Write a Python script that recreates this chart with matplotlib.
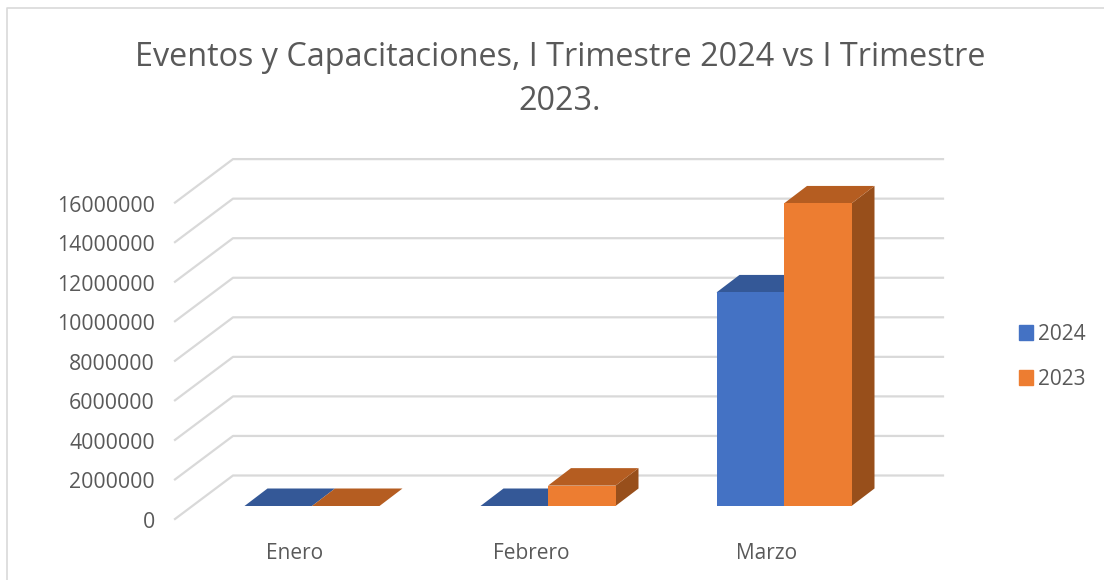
# -*- coding: utf-8 -*-
import matplotlib
matplotlib.use("Agg")
import matplotlib.pyplot as plt
from matplotlib.patches import Patch, Polygon
from matplotlib.transforms import ScaledTranslation

months = ["Enero", "Febrero", "Marzo"]
values_2024 = [0, 0, 10800000]
values_2023 = [0, 1030000, 15300000]
y_ticks = [0, 2000000, 4000000, 6000000, 8000000, 10000000, 12000000, 14000000, 16000000]
title = "Eventos y Capacitaciones, I Trimestre 2024 vs I Trimestre\n2023."

BLUE = "#4472c4"
BLUE_TOP = "#345897"
ORANGE = "#ed7d31"
ORANGE_TOP = "#b55d21"
ORANGE_SIDE = "#984f1b"
GRID = "#d9d9d9"
TEXT = "#595959"

W, H = 1104, 580
plt.rcParams["font.family"] = ["Open Sans", "DejaVu Sans"]

fig = plt.figure(figsize=(W / 100, H / 100), dpi=100)
# plot box in pixels: 175..943 across, 159..519 down
ax = fig.add_axes([175 / W, 1 - 519 / H, 768 / W, 360 / H])
ax.patch.set_alpha(0)

px_x = 236.0          # pixels per category
px_y = 39.55 / 2e6    # pixels per unit of value
ax.set_xlim(-120 / px_x, (943 - 295) / px_x)
ax.set_ylim(0, 360 / px_y)

wall_dx = 58 / px_x
wall_dy = 43.5 / px_y
bar_dx = 23 / px_x
bar_dy = 17.5 / px_y
floor = 13 / px_y
shift = 17 / px_x     # bars sit a little right of the category label
bar_w = 67.5 / px_x
xmin, xmax = ax.get_xlim()

# gridlines: slanted part on the side wall, then back wall
for v in y_ticks:
    ax.plot([xmin, xmin + wall_dx, xmax], [v, v + wall_dy, v + wall_dy], color=GRID, lw=1.6,
            clip_on=False, zorder=1)


def draw_bars(offset, values, front, top, side, z):
    for i, v in enumerate(values):
        x0 = i + shift + offset - bar_w
        if offset > 0:
            x0 = i + shift
        x1 = x0 + bar_w
        y1 = floor + v
        # side and top faces, front is a normal bar
        ax.add_patch(Polygon([(x1, floor), (x1 + bar_dx, floor + bar_dy), (x1 + bar_dx, y1 + bar_dy), (x1, y1)],
                             closed=True, fc=side, ec="none", zorder=z))
        ax.add_patch(Polygon([(x0, y1), (x0 + bar_dx, y1 + bar_dy), (x1 + bar_dx, y1 + bar_dy), (x1, y1)],
                             closed=True, fc=top, ec="none", zorder=z))
        if v > 0:
            ax.bar(x0, v, width=bar_w, bottom=floor, align="edge", color=front, zorder=z)


draw_bars(0, values_2024, BLUE, BLUE_TOP, BLUE_TOP, 3)
draw_bars(1, values_2023, ORANGE, ORANGE_TOP, ORANGE_SIDE, 4)

ax.set_xticks(range(len(months)))
ax.set_xticklabels(months)
ax.set_yticks(y_ticks)
ax.set_yticklabels([str(v) for v in y_ticks])
ax.tick_params(axis="x", length=0, pad=17.5, labelsize=15, labelcolor=TEXT)
ax.tick_params(axis="y", length=0, pad=14.5, labelsize=15.3, labelcolor=TEXT)
# y labels sit about 1 px under their gridline start
for lab in ax.get_yticklabels():
    lab.set_transform(lab.get_transform() + ScaledTranslation(0, -1 / 100, fig.dpi_scale_trans))
for s in ax.spines.values():
    s.set_visible(False)

fig.text(560 / W, 1 - 79.5 / H, title, ha="center", va="center", fontsize=23.3, color=TEXT, linespacing=1.4)

fig.legend(handles=[Patch(color=BLUE, label="2024"), Patch(color=ORANGE, label="2023")],
           loc="center left", bbox_to_anchor=(1000 / W, 1 - 357 / H), frameon=False,
           fontsize=15, labelcolor=TEXT, handlelength=0.7, handleheight=0.7,
           handletextpad=0.22, labelspacing=1.15)

# chart border, only left and top are in the crop
fig.add_artist(plt.Line2D([7 / W, 7 / W, 1], [0, 1 - 8 / H, 1 - 8 / H], color=GRID, lw=1.2))

fig.savefig("out.png", dpi=100)
